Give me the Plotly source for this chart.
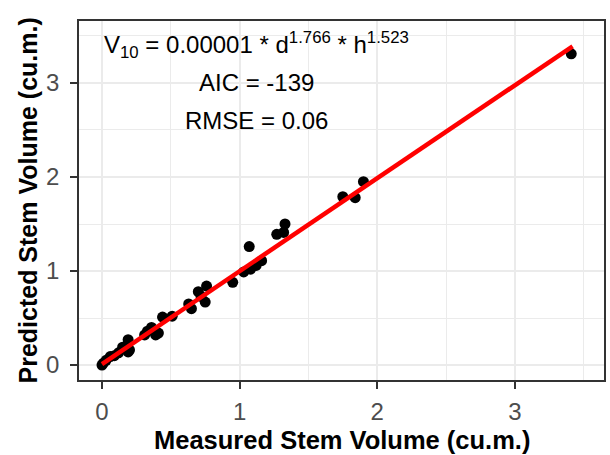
import plotly.graph_objects as go

# Measured vs predicted stem volume (cu.m.)
measured = [0.0, 0.01, 0.03, 0.06, 0.09, 0.12, 0.15, 0.19, 0.19, 0.20, 0.31, 0.33, 0.36, 0.39,
            0.41, 0.44, 0.51, 0.63, 0.65, 0.70, 0.72, 0.75, 0.76, 0.95, 1.03, 1.07, 1.08, 1.12,
            1.16, 1.27, 1.32, 1.33, 1.75, 1.84, 1.90, 3.41]
predicted = [0.0, 0.02, 0.05, 0.09, 0.10, 0.13, 0.19, 0.27, 0.14, 0.16, 0.32, 0.36, 0.40, 0.32,
             0.34, 0.51, 0.52, 0.65, 0.60, 0.78, 0.73, 0.67, 0.84, 0.88, 0.99, 1.26, 1.02, 1.06,
             1.11, 1.39, 1.41, 1.50, 1.79, 1.78, 1.95, 3.31]

# fitted line endpoints
fit_x = [0.0, 3.42]
fit_y = [0.01, 3.39]

tick_vals = [0, 1, 2, 3]
tick_text = ["0", "1", "2", "3"]

ann_lines = ["V<sub>10</sub> = 0.00001 * d<sup>1.766</sup> * h<sup>1.523</sup>",
             "AIC = -139",
             "RMSE = 0.06"]
ann_y = [3.4, 3.0, 2.6]
ann_x = 1.12

FONT = "Liberation Sans, Arial, sans-serif"

fig = go.Figure()
fig.add_trace(go.Scatter(x=measured, y=predicted, mode="markers",
                         marker=dict(color="black", size=11), showlegend=False))
fig.add_trace(go.Scatter(x=fit_x, y=fit_y, mode="lines",
                         line=dict(color="#FF0000", width=4.5), showlegend=False))

for txt, yy in zip(ann_lines, ann_y):
    fig.add_annotation(x=ann_x, y=yy, text=txt, showarrow=False,
                       font=dict(family=FONT, size=24, color="black"),
                       xanchor="center", yanchor="middle")

axis_common = dict(
    showline=True, mirror=True, linecolor="#333333", linewidth=1.5,
    ticks="outside", ticklen=7, tickwidth=1.5, tickcolor="#333333",
    tickmode="array", tickvals=tick_vals, ticktext=tick_text,
    tickfont=dict(family=FONT, size=24, color="#4D4D4D"),
    showgrid=True, gridcolor="#EBEBEB", gridwidth=2,
    minor=dict(tickmode="array", tickvals=[0.5, 1.5, 2.5, 3.5],
               showgrid=True, gridcolor="#EBEBEB", gridwidth=1, ticks=""),
    zeroline=False,
)

fig.update_xaxes(range=[-0.167, 3.648], ticklabelstandoff=2, **axis_common)
fig.update_yaxes(range=[-0.159, 3.659], ticklabelstandoff=6, **axis_common)

fig.add_annotation(x=0.5, y=-0.167, xref="paper", yref="paper",
                   text="<b>Measured Stem Volume (cu.m.)</b>", showarrow=False,
                   font=dict(family=FONT, size=25.5, color="black"),
                   xanchor="center", yanchor="middle")
fig.add_annotation(x=-0.099, y=0.5, xref="paper", yref="paper",
                   text="<b>Predicted Stem Volume (cu.m.)</b>", showarrow=False,
                   textangle=-90,
                   font=dict(family=FONT, size=25, color="black"),
                   xanchor="center", yanchor="middle")

fig.update_layout(width=610, height=455,
                  margin=dict(l=79, r=4, t=21, b=75),
                  paper_bgcolor="white", plot_bgcolor="white")

fig.write_html("out.html")
